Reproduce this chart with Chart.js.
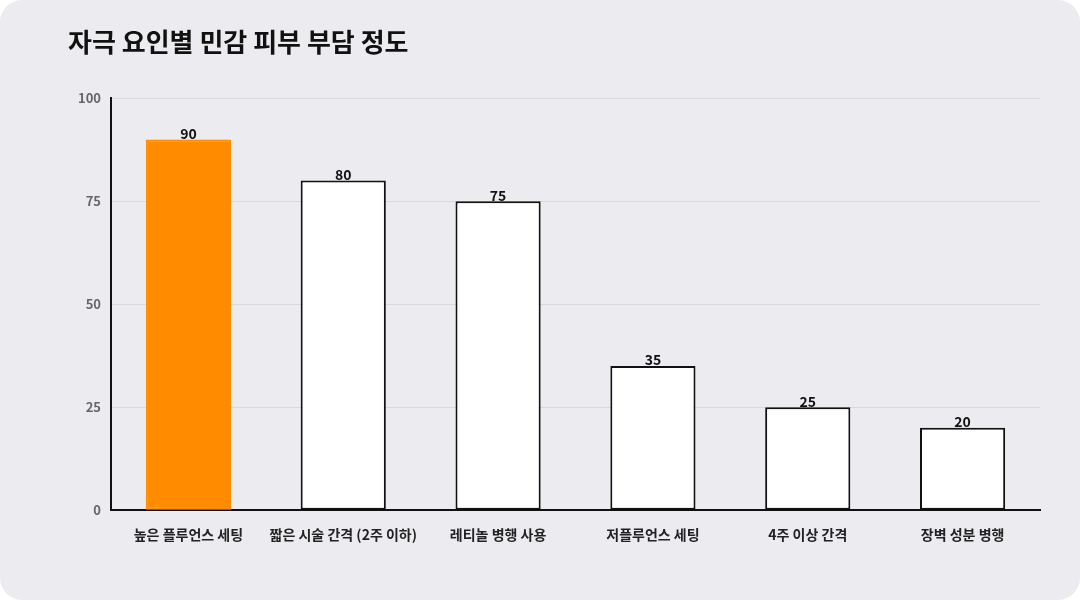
<!DOCTYPE html>
<html><head><meta charset="utf-8">
<script src="https://cdn.jsdelivr.net/npm/chart.js@4"></script>
<style>
html,body{margin:0;padding:0;background:#fff;}
#wrap{position:absolute;left:0;top:0;width:1080px;height:600px;background:#ECEBF0;border-radius:22px;overflow:hidden;}
canvas{display:block;}
</style></head>
<body><div id="wrap"><canvas id="c" width="1080" height="600"></canvas></div>
<script>
const categories = ["높은 플루언스 세팅","짧은 시술 간격 (2주 이하)","레티놀 병행 사용","저플루언스 세팅","4주 이상 간격","장벽 성분 병행"];
const values = [90,80,75,35,25,20];
const yTicks = [0,25,50,75,100];
const FONT = "'Noto Sans CJK KR','Noto Sans',sans-serif";

const labelPlugin = {
  id:'lbl',
  afterDatasetsDraw(chart){
    const ctx = chart.ctx;
    const meta = chart.getDatasetMeta(0);
    ctx.save();
    ctx.font = "bold 14px " + FONT;
    ctx.fillStyle = "#111";
    ctx.textAlign = "center";
    ctx.textBaseline = "bottom";
    meta.data.forEach((b,i)=>{ ctx.fillText(values[i], b.x, b.y + 1); });
    ctx.restore();
  }
};

new Chart(document.getElementById('c'), {
  type:'bar',
  data:{labels:categories, datasets:[{
    data:values,
    backgroundColor: values.map((v,i)=> i===0 ? '#FF8C00' : '#FFFFFF'),
    borderColor: values.map((v,i)=> i===0 ? '#FF8C00' : '#111111'),
    borderWidth:2,
    borderSkipped:false,
    barPercentage:0.55,
    categoryPercentage:1
  }]},
  options:{
    responsive:false, animation:false,
    layout:{padding:{top:27,left:68,right:40,bottom:49}},
    plugins:{
      legend:{display:false},
      tooltip:{enabled:false},
      title:{display:true, text:"자극 요인별 민감 피부 부담 정도", align:'start',
        color:'#111', font:{family:FONT, size:26, weight:'bold'}, padding:{top:0,bottom:40}}
    },
    scales:{
      y:{min:0,max:100,
        afterBuildTicks(ax){ ax.ticks = yTicks.map(v=>({value:v})); },
        grid:{color:'#D9D8DD', drawTicks:false},
        border:{display:true,color:'#111',width:2},
        ticks:{padding:10,color:'#666',font:{family:FONT,size:13,weight:'bold'}}
      },
      x:{
        grid:{display:false},
        border:{display:true,color:'#111',width:2},
        ticks:{padding:8,color:'#222',maxRotation:0,autoSkip:false,font:{family:FONT,size:14,weight:'bold'}}
      }
    }
  },
  plugins:[labelPlugin]
});
</script></body></html>
